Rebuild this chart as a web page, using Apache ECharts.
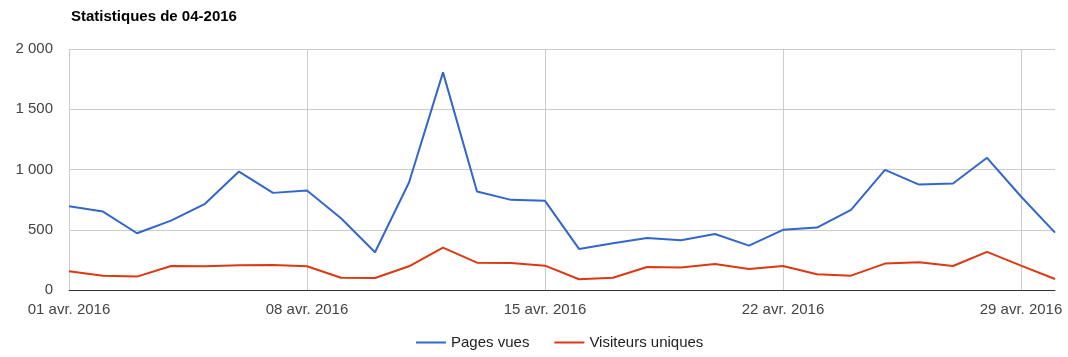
<!DOCTYPE html>
<html>
<head>
<meta charset="utf-8">
<script src="https://cdn.jsdelivr.net/npm/echarts@6/dist/echarts.min.js"></script>
<style>
html,body{margin:0;padding:0;background:#fff;}
#chart{width:1068px;height:357px;}
</style>
</head>
<body>
<div id="chart"></div>
<script>
var categories = [
  "01 avr. 2016","02 avr. 2016","03 avr. 2016","04 avr. 2016","05 avr. 2016",
  "06 avr. 2016","07 avr. 2016","08 avr. 2016","09 avr. 2016","10 avr. 2016",
  "11 avr. 2016","12 avr. 2016","13 avr. 2016","14 avr. 2016","15 avr. 2016",
  "16 avr. 2016","17 avr. 2016","18 avr. 2016","19 avr. 2016","20 avr. 2016",
  "21 avr. 2016","22 avr. 2016","23 avr. 2016","24 avr. 2016","25 avr. 2016",
  "26 avr. 2016","27 avr. 2016","28 avr. 2016","29 avr. 2016","30 avr. 2016"
];
var pagesVues = [695, 651, 471, 576, 715, 983, 806, 825, 596, 313,
                 892, 1806, 817, 748, 740, 341, 388, 432, 413, 465,
                 368, 499, 518, 665, 997, 875, 884, 1097, 776, 476];
var visiteursUniques = [155, 119, 111, 199, 197, 205, 208, 197, 102, 100,
                        197, 352, 227, 224, 202, 89, 102, 191, 186, 216,
                        175, 199, 130, 119, 219, 230, 199, 316, 202, 91];
var seriesNames = ["Pages vues", "Visiteurs uniques"];
var titleText = "Statistiques de 04-2016";

var font = "'Liberation Sans', Arial, sans-serif";
var chart = echarts.init(document.getElementById('chart'), null, {renderer: 'canvas'});
chart.setOption({
  animation: false,
  backgroundColor: '#fff',
  title: {
    text: titleText,
    left: 71, top: 9, padding: 0,
    textStyle: {fontFamily: font, fontSize: 15, fontWeight: 'bold', color: '#000'}
  },
  legend: {
    data: seriesNames,
    left: 416, top: 335, padding: 0,
    icon: 'rect', itemWidth: 30, itemHeight: 2, itemGap: 25,
    textStyle: {fontFamily: font, fontSize: 15, color: '#222'}
  },
  grid: {left: 69, right: 13, top: 49, bottom: 67, containLabel: false},
  xAxis: {
    type: 'category',
    data: categories,
    boundaryGap: false,
    axisLine: {show: true, lineStyle: {color: '#333', width: 1}},
    axisTick: {show: false},
    axisLabel: {interval: 6, color: '#444', fontFamily: font, fontSize: 15, margin: 12},
    splitLine: {show: true, interval: 6, lineStyle: {color: '#ccc', width: 1}}
  },
  yAxis: {
    type: 'value',
    min: 0, max: 2000, interval: 500,
    axisLine: {show: false},
    axisTick: {show: false},
    axisLabel: {
      color: '#444', fontFamily: font, fontSize: 15, margin: 16,
      padding: [3, 0, 0, 0],
      formatter: function (v) { return String(v).replace(/\B(?=(\d{3})+(?!\d))/g, ' '); }
    },
    splitLine: {show: true, lineStyle: {color: '#ccc', width: 1}}
  },
  series: [
    {name: seriesNames[0], type: 'line', data: pagesVues, showSymbol: false, symbol: 'none',
     lineStyle: {color: '#3366cc', width: 2}, itemStyle: {color: '#3366cc'}},
    {name: seriesNames[1], type: 'line', data: visiteursUniques, showSymbol: false, symbol: 'none',
     lineStyle: {color: '#dc3912', width: 2}, itemStyle: {color: '#dc3912'}}
  ]
});
</script>
</body>
</html>
